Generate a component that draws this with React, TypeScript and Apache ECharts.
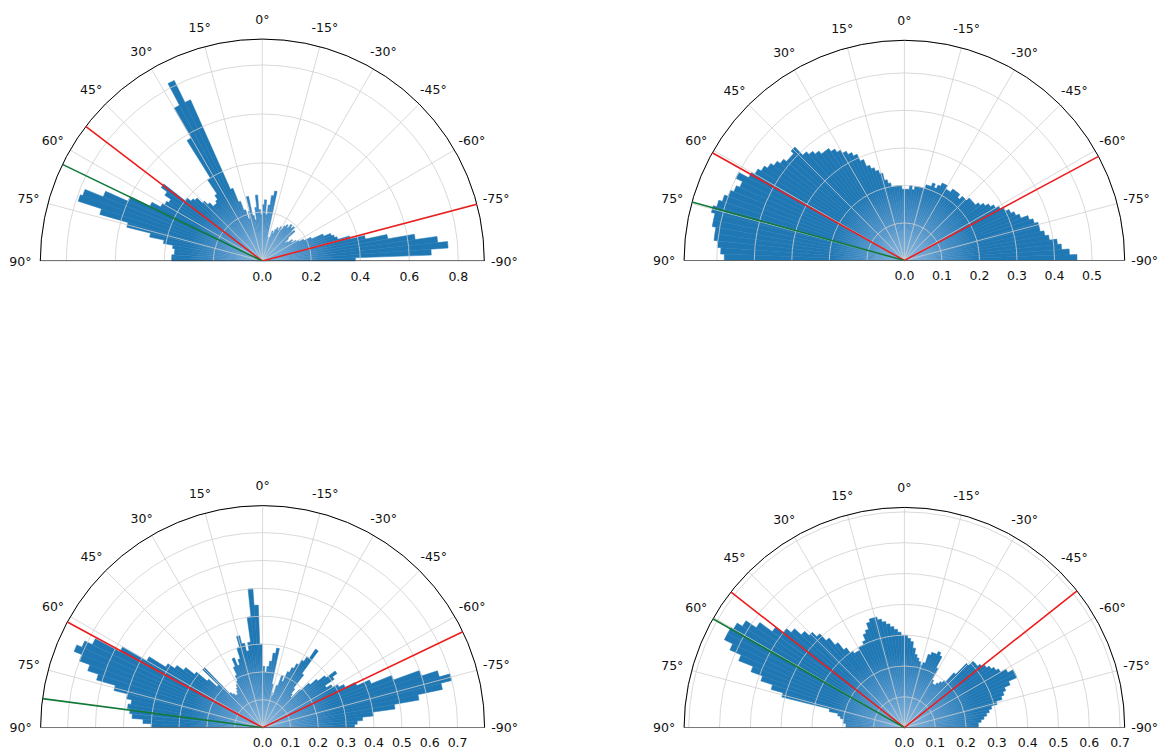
import React, { useEffect, useRef } from "react";
import * as echarts from "echarts";

// Bin centres (degrees), 2° wide bins, from +90 (left) to -90 (right)
const ANGLE_BINS = [
  89, 87, 85, 83, 81, 79, 77, 75, 73, 71,
  69, 67, 65, 63, 61, 59, 57, 55, 53, 51,
  49, 47, 45, 43, 41, 39, 37, 35, 33, 31,
  29, 27, 25, 23, 21, 19, 17, 15, 13, 11,
  9, 7, 5, 3, 1, -1, -3, -5, -7, -9,
  -11, -13, -15, -17, -19, -21, -23, -25, -27, -29,
  -31, -33, -35, -37, -39, -41, -43, -45, -47, -49,
  -51, -53, -55, -57, -59, -61, -63, -65, -67, -69,
  -71, -73, -75, -77, -79, -81, -83, -85, -87, -89,
];
const BIN_WIDTH = 2;

const THETA_TICKS = [90, 75, 60, 45, 30, 15, 0, -15, -30, -45, -60, -75, -90];

const P1_R = [
  0.37, 0.37, 0.36, 0.36, 0.37, 0.41, 0.47, 0.57, 0.69, 0.79,
  0.78, 0.70, 0.60, 0.51, 0.47, 0.46, 0.45, 0.48, 0.51, 0.40,
  0.38, 0.37, 0.34, 0.32, 0.30, 0.30, 0.31, 0.33, 0.40, 0.58,
  0.72, 0.82, 0.72, 0.32, 0.26, 0.22, 0.18, 0.21, 0.27, 0.19,
  0.17, 0.22, 0.27, 0.21, 0.19, 0.23, 0.25, 0.19, 0.23, 0.27,
  0.29, 0.10, 0.08, 0.10, 0.13, 0.12, 0.14, 0.15, 0.14, 0.16,
  0.15, 0.17, 0.18, 0.17, 0.19, 0.18, 0.19, 0.17, 0.18, 0.14,
  0.12, 0.13, 0.15, 0.14, 0.16, 0.17, 0.19, 0.22, 0.27, 0.30,
  0.31, 0.32, 0.37, 0.43, 0.52, 0.63, 0.72, 0.76, 0.69, 0.38,
];
const P2_R = [
  0.48, 0.49, 0.50, 0.51, 0.51, 0.52, 0.52, 0.53, 0.52, 0.51,
  0.50, 0.49, 0.48, 0.50, 0.47, 0.46, 0.45, 0.44, 0.43, 0.42,
  0.41, 0.41, 0.42, 0.39, 0.38, 0.37, 0.36, 0.36, 0.35, 0.34,
  0.33, 0.32, 0.31, 0.29, 0.27, 0.26, 0.25, 0.24, 0.22, 0.21,
  0.20, 0.20, 0.20, 0.20, 0.19, 0.19, 0.19, 0.20, 0.19, 0.20,
  0.20, 0.20, 0.20, 0.21, 0.21, 0.22, 0.21, 0.22, 0.23, 0.23,
  0.22, 0.22, 0.23, 0.23, 0.23, 0.22, 0.23, 0.23, 0.24, 0.24,
  0.24, 0.25, 0.26, 0.27, 0.28, 0.29, 0.30, 0.31, 0.32, 0.33,
  0.35, 0.36, 0.37, 0.37, 0.38, 0.39, 0.41, 0.42, 0.44, 0.46,
];
const P3_R = [
  0.40, 0.43, 0.47, 0.48, 0.49, 0.48, 0.50, 0.55, 0.62, 0.66,
  0.70, 0.73, 0.71, 0.68, 0.58, 0.48, 0.41, 0.38, 0.35, 0.31,
  0.26, 0.22, 0.30, 0.17, 0.16, 0.15, 0.15, 0.16, 0.17, 0.18,
  0.19, 0.21, 0.24, 0.27, 0.24, 0.26, 0.30, 0.34, 0.31, 0.28,
  0.31, 0.40, 0.50, 0.44, 0.30, 0.22, 0.20, 0.22, 0.24, 0.27,
  0.29, 0.16, 0.13, 0.12, 0.16, 0.20, 0.18, 0.22, 0.24, 0.26,
  0.28, 0.30, 0.34, 0.24, 0.18, 0.16, 0.15, 0.19, 0.23, 0.26,
  0.29, 0.33, 0.31, 0.27, 0.29, 0.31, 0.33, 0.37, 0.42, 0.50,
  0.60, 0.66, 0.70, 0.66, 0.57, 0.48, 0.40, 0.36, 0.34, 0.33,
];
const P4_R = [
  0.19, 0.19, 0.20, 0.20, 0.21, 0.22, 0.25, 0.41, 0.45, 0.49,
  0.53, 0.58, 0.62, 0.65, 0.65, 0.64, 0.62, 0.58, 0.53, 0.50,
  0.48, 0.45, 0.43, 0.41, 0.38, 0.35, 0.32, 0.30, 0.29, 0.29,
  0.30, 0.30, 0.31, 0.33, 0.34, 0.36, 0.37, 0.37, 0.36, 0.35,
  0.34, 0.33, 0.32, 0.31, 0.30, 0.30, 0.29, 0.28, 0.26, 0.24,
  0.23, 0.22, 0.21, 0.22, 0.25, 0.26, 0.26, 0.27, 0.26, 0.22,
  0.18, 0.17, 0.17, 0.18, 0.19, 0.20, 0.24, 0.29, 0.31, 0.31,
  0.32, 0.33, 0.34, 0.35, 0.36, 0.38, 0.40, 0.40, 0.37, 0.35,
  0.34, 0.33, 0.31, 0.29, 0.28, 0.27, 0.26, 0.25, 0.24, 0.24,
];

const P1_RTICKS = [0, 0.2, 0.4, 0.6, 0.8];
const P2_RTICKS = [0, 0.1, 0.2, 0.3, 0.4, 0.5];
const P3_RTICKS = [0, 0.1, 0.2, 0.3, 0.4, 0.5, 0.6, 0.7];
const P4_RTICKS = [0, 0.1, 0.2, 0.3, 0.4, 0.5, 0.6, 0.7];

const R_MAX = [0.906, 0.587, 0.797, 0.715];
const R_INTERVAL = [0.2, 0.1, 0.1, 0.1];

const RED_ANGLES = [
  [52.7, -75.2],
  [60.7, -61.8],
  [61.6, -64.4],
  [52.0, -51.6],
];
const GREEN_ANGLES = [64.2, 74.6, 82.5, 60.4];

// layout (pixels)
const CENTERS = [
  [262.3, 261],
  [904.4, 260.5],
  [262.6, 727.6],
  [904.4, 727.6],
];
const RADII = [222, 220.3, 222, 220.3];

const FONT = "DejaVu Sans";
const BAR_COLOR = "#1f77b4";
const GRID_COLOR = "#cfcfcf";
const TEXT_COLOR = "#111111";

export default function App() {
  const ref = useRef<HTMLDivElement>(null);

  useEffect(() => {
    if (!ref.current) return;
    const chart = echarts.init(ref.current, null, { renderer: "svg" });

    const panels = [
      { r: P1_R, ticks: P1_RTICKS },
      { r: P2_R, ticks: P2_RTICKS },
      { r: P3_R, ticks: P3_RTICKS },
      { r: P4_R, ticks: P4_RTICKS },
    ];

    const series: any[] = [];
    panels.forEach((p, i) => {
      const rmax = R_MAX[i];
      // bars
      series.push({
        type: "custom",
        coordinateSystem: "polar",
        polarIndex: i,
        clip: false,
        silent: true,
        z: 1,
        data: ANGLE_BINS.map((a, k) => [p.r[k], a]),
        renderItem: (params: any, api: any) => {
          const cs = params.coordSys;
          const r = api.value(0);
          const a = api.value(1);
          const tip = api.coord([r, a]);
          const rad = Math.hypot(tip[0] - cs.cx, tip[1] - cs.cy);
          const a1 = api.coord([r, a + BIN_WIDTH / 2]);
          const a2 = api.coord([r, a - BIN_WIDTH / 2]);
          let s = Math.atan2(a1[1] - cs.cy, a1[0] - cs.cx);
          let e = Math.atan2(a2[1] - cs.cy, a2[0] - cs.cx);
          const mid = Math.atan2(tip[1] - cs.cy, tip[0] - cs.cx);
          const norm = (v: number) => {
            while (v - mid > Math.PI) v -= 2 * Math.PI;
            while (mid - v > Math.PI) v += 2 * Math.PI;
            return v;
          };
          s = norm(s);
          e = norm(e);
          const start = Math.min(s, e);
          const end = Math.max(s, e);
          const fill = {
            type: "radial",
            x: cs.cx,
            y: cs.cy,
            r: 75,
            global: true,
            colorStops: [
              { offset: 0, color: "#8dbbe0" },
              { offset: 0.45, color: "#4f93c9" },
              { offset: 1, color: BAR_COLOR },
            ],
          };
          return {
            type: "sector",
            shape: { cx: cs.cx, cy: cs.cy, r0: 0, r: rad, startAngle: start, endAngle: end, clockwise: true },
            style: { fill, stroke: fill, lineWidth: 0.5 },
          };
        },
      });
      // baseline
      series.push({
        type: "line",
        coordinateSystem: "polar",
        polarIndex: i,
        silent: true,
        symbol: "none",
        z: 4,
        data: [[rmax, 90], [0, 0], [rmax, -90]],
        lineStyle: { color: "#000", width: 1 },
      });
      // red lines
      series.push({
        type: "line",
        coordinateSystem: "polar",
        polarIndex: i,
        silent: true,
        symbol: "none",
        z: 5,
        data: [[rmax, RED_ANGLES[i][0]], [0, 0], [rmax, RED_ANGLES[i][1]]],
        lineStyle: { color: "#ee1d1d", width: 1.6 },
      });
      // green line
      series.push({
        type: "line",
        coordinateSystem: "polar",
        polarIndex: i,
        silent: true,
        symbol: "none",
        z: 5,
        data: [[0, 0], [rmax, GREEN_ANGLES[i]]],
        lineStyle: { color: "#117a38", width: 1.6 },
      });
      // angle labels
      series.push({
        type: "custom",
        coordinateSystem: "polar",
        polarIndex: i,
        clip: false,
        silent: true,
        z: 6,
        data: THETA_TICKS.map((t) => [rmax, t]),
        renderItem: (params: any, api: any) => {
          const cs = params.coordSys;
          const pt = api.coord([api.value(0), api.value(1)]);
          const dx = pt[0] - cs.cx;
          const dy = pt[1] - cs.cy;
          const d = Math.hypot(dx, dy) || 1;
          return {
            type: "text",
            x: pt[0] + (dx / d) * 20,
            y: pt[1] + (dy / d) * 20,
            style: {
              text: THETA_TICKS[params.dataIndex] + "°",
              fill: TEXT_COLOR,
              fontSize: 12.5,
              fontFamily: FONT,
              align: "center",
              verticalAlign: "middle",
            },
          };
        },
      });
      // radius labels
      series.push({
        type: "custom",
        coordinateSystem: "polar",
        polarIndex: i,
        clip: false,
        silent: true,
        z: 6,
        data: p.ticks.map((v) => [v, -90]),
        renderItem: (params: any, api: any) => {
          const pt = api.coord([api.value(0), api.value(1)]);
          return {
            type: "text",
            x: pt[0],
            y: pt[1] + 15,
            style: {
              text: p.ticks[params.dataIndex].toFixed(1),
              fill: TEXT_COLOR,
              fontSize: 12.5,
              fontFamily: FONT,
              align: "center",
              verticalAlign: "middle",
            },
          };
        },
      });
    });

    chart.setOption({
      animation: false,
      polar: CENTERS.map((c, i) => ({ center: c, radius: RADII[i] })),
      angleAxis: CENTERS.map((_, i) => ({
        polarIndex: i,
        type: "value",
        min: -90,
        max: 90,
        interval: 15,
        startAngle: 0,
        endAngle: 180,
        clockwise: false,
        z: 3,
        axisLine: { show: true, lineStyle: { color: "#000", width: 1 } },
        axisTick: { show: false },
        axisLabel: { show: false },
        splitLine: { show: true, lineStyle: { color: GRID_COLOR, width: 0.8 } },
      })),
      radiusAxis: CENTERS.map((_, i) => ({
        polarIndex: i,
        type: "value",
        min: 0,
        max: R_MAX[i],
        interval: R_INTERVAL[i],
        z: 3,
        axisLine: { show: false },
        axisTick: { show: false },
        axisLabel: { show: false },
        splitLine: { show: true, lineStyle: { color: GRID_COLOR, width: 0.8 } },
      })),
      series,
    });

    return () => chart.dispose();
  }, []);

  return (
    <div
      ref={ref}
      style={{ position: "absolute", left: 0, top: 0, width: 1168, height: 751, background: "#fff" }}
    />
  );
}
